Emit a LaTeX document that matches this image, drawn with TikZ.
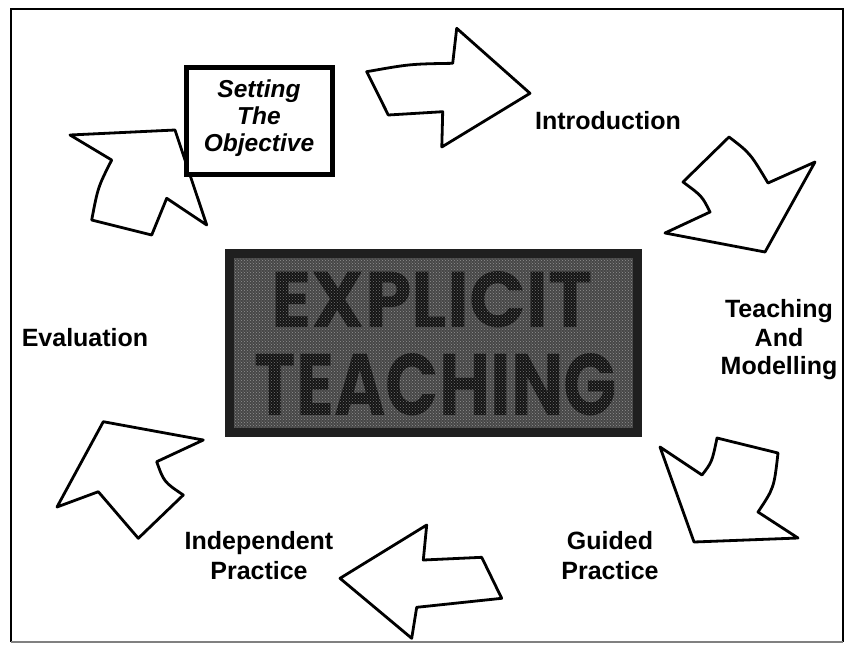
\documentclass[tikz,border=0pt]{standalone}
\usepackage{fontspec}
\setmainfont{Liberation Sans}
\newfontfamily\bigfont{Poppins}
\usetikzlibrary{patterns}
\begin{document}
\begin{tikzpicture}[x=1pt,y=-1pt,
  arrowshape/.style={draw=black, fill=white, line width=2.8pt, line join=round},
  lbl/.style={font=\bfseries\fontsize{25}{29}\selectfont, align=center, inner sep=0pt},
  bigtxt/.style={font=\bigfont\bfseries, text=black!92, inner sep=0pt},
]
\useasboundingbox (0,0) rectangle (850,649);
% frame
\draw[line width=2.5pt] (11,642) -- (11,9) -- (843,9) -- (843,642);
\draw[line width=1.5pt, black!50] (11,642) -- (843,642);

% arrows
\draw[arrowshape] (366.7,71.7) .. controls (410,64) .. (452.7,63.3) -- (456.7,28.3) -- (530,93.3) -- (441.8,147) -- (442.7,111.7) -- (388.3,115) -- cycle;
\draw[arrowshape] (729,137) .. controls (750,153) .. (768,183) -- (815,162) -- (765,252) -- (665,233) -- (710,212) .. controls (702,196) .. (683,182) -- cycle;
\draw[arrowshape] (660,447) -- (702,475) .. controls (712,462) .. (717,438) -- (778,453) .. controls (774,488) .. (758,512) -- (798,538) -- (694,542) -- cycle;
\draw[arrowshape] (426.7,525) -- (423.3,560) -- (481.7,557.3) -- (501.7,598.3) -- (416.7,607.3) -- (411.7,638.3) -- (340,578.3) -- cycle;
\draw[arrowshape] (103.3,421.7) -- (203.3,440) -- (156.7,461.7) .. controls (164,482) .. (183.3,495) -- (138.3,538.3) -- (98.3,491.7) -- (57,507) -- cycle;
\draw[arrowshape] (70,135) -- (175,130) -- (206.7,225) -- (166.7,198.3) -- (151.7,235) -- (91.7,220) .. controls (98,187) .. (111.7,160) -- cycle;

% objective box
\draw[line width=5pt, fill=white] (186.5,67.5) rectangle (332.5,174.5);
\node[lbl, font=\bfseries\itshape\fontsize{24.5}{27}\selectfont] (obj) at (259,118) {Setting\\The\\Objective};

% labels
\node[lbl] (intro) at (608,121) {Introduction};
\node[lbl, font=\bfseries\fontsize{25}{28.5}\selectfont] (teach) at (779,340) {Teaching\\And\\Modelling};
\node[lbl, font=\bfseries\fontsize{25}{30}\selectfont] (guided) at (610,556) {Guided\\Practice};
\node[lbl, font=\bfseries\fontsize{25}{30}\selectfont] (indep) at (259,556) {Independent\\Practice};
\node[lbl] (eval) at (85,338) {Evaluation};

% central box
\fill[black!72] (225,249) rectangle (642,437);
\node[bigtxt] (t1) at (432,300) {\resizebox{321pt}{56pt}{EXPLICIT}};
\node[bigtxt] (t2) at (436,385) {\resizebox{362pt}{62pt}{TEACHING}};
\fill[pattern=crosshatch dots, pattern color=white, opacity=0.4] (225,249) rectangle (642,437);
\draw[line width=9pt, black!88] (229.5,253.5) rectangle (637.5,432.5);
\end{tikzpicture}
\end{document}
